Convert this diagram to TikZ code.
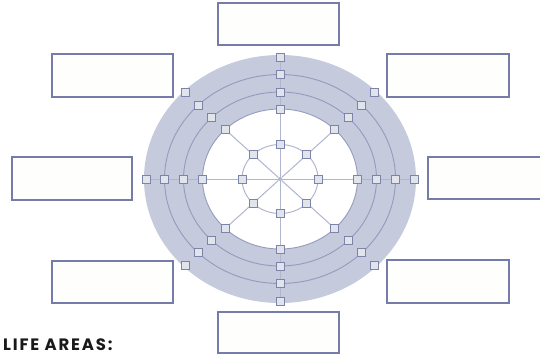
\documentclass[tikz,border=0pt]{standalone}
\usepackage{fontspec}
\newfontfamily\headfont[LetterSpace=11]{Poppins}
\usetikzlibrary{calc,backgrounds}

\definecolor{band}{RGB}{197,202,221}
\definecolor{ringline}{RGB}{148,155,188}
\definecolor{spoke}{RGB}{176,182,207}
\definecolor{knotfill}{RGB}{226,228,235}
\definecolor{knotdraw}{RGB}{124,132,170}
\definecolor{boxdraw}{RGB}{118,124,170}
\definecolor{boxfill}{RGB}{254,254,252}

\begin{document}
\begin{tikzpicture}[x=1pt,y=-1pt,
  knot/.style={rectangle, draw=knotdraw, fill=knotfill, line width=0.8pt,
               minimum size=8pt, inner sep=0pt},
  hubdot/.style={circle, fill=spoke, minimum size=4pt, inner sep=0pt},
  areabox/.style={rectangle, draw=boxdraw, fill=boxfill, line width=1.1pt,
                  inner sep=0pt},
  axisline/.style={draw=spoke, line width=1pt},
  ringline/.style={draw=ringline, line width=0.9pt}]
\useasboundingbox (0,0) rectangle (540,356);

% centre of the wheel
\coordinate (c) at (280,179);

% knot positions on the five rings (x radius / y radius)
\foreach \r/\a/\b in {1/134/122, 2/115.5/104.5, 3/96.5/87, 4/77.5/70, 5/38/34.5}
  \foreach \k in {0,...,7}
    \coordinate (p\r-\k) at ($(c)+({\a*cos(45*\k)},{\b*sin(45*\k)})$);

% square knots and hub
\node[hubdot] (hub) at (c) {};
\foreach \r in {1,...,5}
  \foreach \k in {0,...,7}
    \node[knot] (k\r-\k) at (p\r-\k) {};

% rings and spokes behind the knots
\begin{scope}[on background layer]
  \fill[band] (c) ellipse [x radius=136, y radius=124];
  \draw[ringline] (c) ellipse [x radius=115.5, y radius=104.5];
  \draw[ringline] (c) ellipse [x radius=96.5, y radius=87];
  \draw[ringline, fill=white] (c) ellipse [x radius=77.5, y radius=70];
  \draw[axisline] (c) ellipse [x radius=38, y radius=34.5];
  \draw[axisline] (k1-4) -- (k1-0);
  \draw[axisline] (k1-6) -- (k1-2);
  \foreach \k in {1,3,5,7}
    \draw[axisline] (hub) -- (k4-\k);
\end{scope}

% empty boxes for the life areas
\node[areabox, minimum width=121pt, minimum height=42pt] (boxN)  at (278.5,24)  {};
\node[areabox, minimum width=121pt, minimum height=43pt] (boxNW) at (112.5,75.5) {};
\node[areabox, minimum width=122pt, minimum height=43pt] (boxNE) at (448,75.5)   {};
\node[areabox, minimum width=120pt, minimum height=43pt] (boxW)  at (72,178.5)   {};
\node[areabox, minimum width=122pt, minimum height=42pt] (boxE)  at (489,178)    {};
\node[areabox, minimum width=121pt, minimum height=42pt] (boxSW) at (112.5,282)  {};
\node[areabox, minimum width=122pt, minimum height=43pt] (boxSE) at (448,281.5)  {};
\node[areabox, minimum width=121pt, minimum height=41pt] (boxS)  at (278.5,332.5) {};

% heading
\node[anchor=base west, inner sep=0pt, text=black!90]
  (heading) at (3,350) {\headfont\bfseries\fontsize{16.5}{18}\selectfont LIFE AREAS:};
\end{tikzpicture}
\end{document}
